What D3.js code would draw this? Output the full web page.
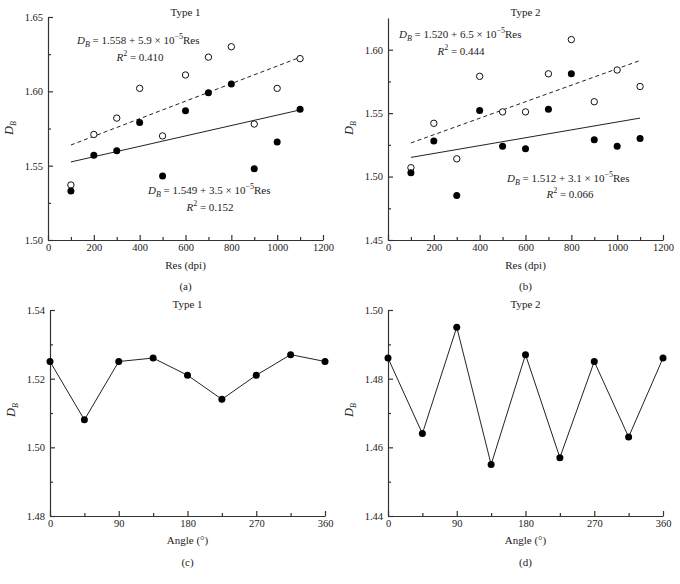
<!DOCTYPE html>
<html><head><meta charset="utf-8">
<script src="https://cdn.jsdelivr.net/npm/d3@7"></script>
<style>
body{margin:0;background:#fff;}
svg{display:block;font-family:"Liberation Serif","Times New Roman",serif;}
</style></head>
<body><svg id="c" width="680" height="584"></svg>
<script>
// ---- data ----
const resValues = [100,200,300,400,500,600,700,800,900,1000,1100];
const type1Open   = [1.537,1.571,1.582,1.602,1.570,1.611,1.623,1.630,1.578,1.602,1.622];
const type1Filled = [1.533,1.557,1.560,1.579,1.543,1.587,1.599,1.605,1.548,1.566,1.588];
const type2Open   = [1.507,1.542,1.514,1.579,1.551,1.551,1.581,1.608,1.559,1.584,1.571];
const type2Filled = [1.503,1.528,1.485,1.552,1.524,1.522,1.553,1.581,1.529,1.524,1.530];
// fit lines: [intercept, slope]
const fitType1Open = [1.558, 5.9e-5];
const fitType1Filled = [1.549, 3.5e-5];
const fitType2Open = [1.520, 6.5e-5];
const fitType2Filled = [1.512, 3.1e-5];
const angles = [0,45,90,135,180,225,270,315,360];
const type1Angle = [1.525,1.508,1.525,1.526,1.521,1.514,1.521,1.527,1.525];
const type2Angle = [1.486,1.464,1.495,1.455,1.487,1.457,1.485,1.463,1.486];
const resTicks = [0,200,400,600,800,1000,1200];
const angleTicks = [0,90,180,270,360];

const svg = d3.select("#c");
const FS = 11;
const TFS = 10.5;
const axisColor = "#333";

function drawAxes(g, x, y, xMajor, xMinor, yMajor, yMinor, yFmt) {
  g.append("g").attr("transform", `translate(0,${y.range()[0]})`)
    .call(d3.axisBottom(x).tickValues(xMajor).tickSizeInner(-5).tickSizeOuter(0).tickPadding(4).tickFormat(d3.format("d")));
  g.append("g").attr("transform", `translate(0,${y.range()[0]})`)
    .call(d3.axisBottom(x).tickValues(xMinor).tickSizeInner(-3).tickSizeOuter(0).tickFormat(""))
    .select(".domain").remove();
  g.append("g").attr("transform", `translate(${x.range()[0]},0)`)
    .call(d3.axisLeft(y).tickValues(yMajor).tickSizeInner(-5).tickSizeOuter(0).tickPadding(5).tickFormat(yFmt));
  g.append("g").attr("transform", `translate(${x.range()[0]},0)`)
    .call(d3.axisLeft(y).tickValues(yMinor).tickSizeInner(-3).tickSizeOuter(0).tickFormat(""))
    .select(".domain").remove();
  g.selectAll(".domain, .tick line").attr("stroke", axisColor).attr("stroke-width", 1.2);
  g.selectAll(".tick text").attr("font-family", "Liberation Serif").attr("font-size", TFS).attr("fill", "#222");
}

function yLabel(g, xPos, yPos) {
  const t = g.append("text").attr("transform", `translate(${xPos},${yPos}) rotate(-90)`)
    .attr("text-anchor", "middle").attr("font-size", 12.5).attr("font-style", "italic").attr("fill", "#222");
  t.append("tspan").text("D");
  t.append("tspan").attr("font-size", 8).attr("dy", 3).text("B");
}

function centerText(g, xPos, yPos, s, size) {
  g.append("text").attr("x", xPos).attr("y", yPos).attr("text-anchor", "middle")
    .attr("font-size", size || FS).attr("fill", "#222").text(s);
}

function equation(g, xPos, yPos, a, b) {
  const t = g.append("text").attr("x", xPos).attr("y", yPos).attr("font-size", FS).attr("fill", "#222");
  t.append("tspan").attr("font-style", "italic").text("D");
  t.append("tspan").attr("font-style", "italic").attr("font-size", 8).attr("dy", 3).text("B");
  t.append("tspan").attr("dy", -3).text(` = ${a} + ${b} × 10`);
  t.append("tspan").attr("font-size", 8).attr("dy", -5).text("−5");
  t.append("tspan").attr("dy", 5).text("Res");
}
function r2(g, xPos, yPos, v) {
  const t = g.append("text").attr("x", xPos).attr("y", yPos).attr("text-anchor", "middle").attr("font-size", FS).attr("fill", "#222");
  t.append("tspan").attr("font-style", "italic").text("R");
  t.append("tspan").attr("font-size", 8).attr("dy", -5).text("2");
  t.append("tspan").attr("dy", 5).text(` = ${v}`);
}

function resPanel(cfg) {
  const g = svg.append("g");
  const x = d3.scaleLinear().domain([0,1200]).range(cfg.xr);
  const y = d3.scaleLinear().domain(cfg.yd).range(cfg.yr);
  drawAxes(g, x, y, resTicks, d3.range(100,1200,200), cfg.yMajor, cfg.yMinor, d3.format(".2f"));
  const fits = [[cfg.fitOpen, "4,3"], [cfg.fitFilled, null]];
  fits.forEach(([f, dash]) => {
    const pts = [100,1100].map(v => [v, f[0] + f[1]*v]);
    g.append("path").datum(pts)
      .attr("d", d3.line().x(d => x(d[0])).y(d => y(d[1])))
      .attr("fill", "none").attr("stroke", "#222").attr("stroke-width", 1)
      .attr("stroke-dasharray", dash);
  });
  g.selectAll(".op").data(resValues.map((r,i)=>[r,cfg.open[i]])).join("circle")
    .attr("cx", d=>x(d[0])).attr("cy", d=>y(d[1])).attr("r", 3.2)
    .attr("fill", "#fff").attr("stroke", "#111").attr("stroke-width", 1);
  g.selectAll(".fp").data(resValues.map((r,i)=>[r,cfg.filled[i]])).join("circle")
    .attr("cx", d=>x(d[0])).attr("cy", d=>y(d[1])).attr("r", 3.5).attr("fill", "#000");
  centerText(g, (cfg.xr[0]+cfg.xr[1])/2, 16, cfg.title);
  centerText(g, (cfg.xr[0]+cfg.xr[1])/2, 269, "Res (dpi)");
  centerText(g, (cfg.xr[0]+cfg.xr[1])/2, 290, cfg.letter);
  yLabel(g, cfg.xr[0]-35, 128);
  return g;
}

const ga = resPanel({xr:[48,323], yr:[240,17], yd:[1.50,1.65], yMajor:[1.50,1.55,1.60,1.65], yMinor:[1.525,1.575,1.625],
  open:type1Open, filled:type1Filled, fitOpen:fitType1Open, fitFilled:fitType1Filled, title:"Type 1", letter:"(a)"});
equation(ga, 77, 44, "1.558", "5.9");
r2(ga, 140, 61, "0.410");
equation(ga, 148, 194, "1.549", "3.5");
r2(ga, 210, 211, "0.152");

const gb = resPanel({xr:[388,663], yr:[240,18], yd:[1.45,1.625], yMajor:[1.45,1.50,1.55,1.60], yMinor:[1.475,1.525,1.575],
  open:type2Open, filled:type2Filled, fitOpen:fitType2Open, fitFilled:fitType2Filled, title:"Type 2", letter:"(b)"});
equation(gb, 399, 38, "1.520", "6.5");
r2(gb, 461, 55, "0.444");
equation(gb, 507, 182, "1.512", "3.1");
r2(gb, 570, 198, "0.066");

function anglePanel(cfg) {
  const g = svg.append("g");
  const x = d3.scaleLinear().domain([0,360]).range(cfg.xr);
  const y = d3.scaleLinear().domain(cfg.yd).range([516,310]);
  drawAxes(g, x, y, angleTicks, [45,135,225,315], cfg.yMajor, cfg.yMinor, d3.format(".2f"));
  const data = angles.map((a,i)=>[a,cfg.vals[i]]);
  g.append("path").datum(data).attr("d", d3.line().x(d=>x(d[0])).y(d=>y(d[1])))
    .attr("fill","none").attr("stroke","#222").attr("stroke-width",1);
  g.selectAll(".pt").data(data).join("circle")
    .attr("cx", d=>x(d[0])).attr("cy", d=>y(d[1])).attr("r", 3.5).attr("fill", "#000");
  const cx = (cfg.xr[0]+cfg.xr[1])/2;
  centerText(g, cx, 308, cfg.title);
  g.append("text").attr("x", cx).attr("y", 544).attr("text-anchor","middle").attr("font-size",FS).attr("fill","#222")
    .text("Angle (°)");
  centerText(g, cx, 566, cfg.letter);
  yLabel(g, cfg.xr[0]-35, 410);
}
anglePanel({xr:[50,325], yd:[1.48,1.54], yMajor:[1.48,1.50,1.52,1.54], yMinor:[1.49,1.51,1.53], vals:type1Angle, title:"Type 1", letter:"(c)"});
anglePanel({xr:[388,663], yd:[1.44,1.50], yMajor:[1.44,1.46,1.48,1.50], yMinor:[1.45,1.47,1.49], vals:type2Angle, title:"Type 2", letter:"(d)"});
</script></body></html>
